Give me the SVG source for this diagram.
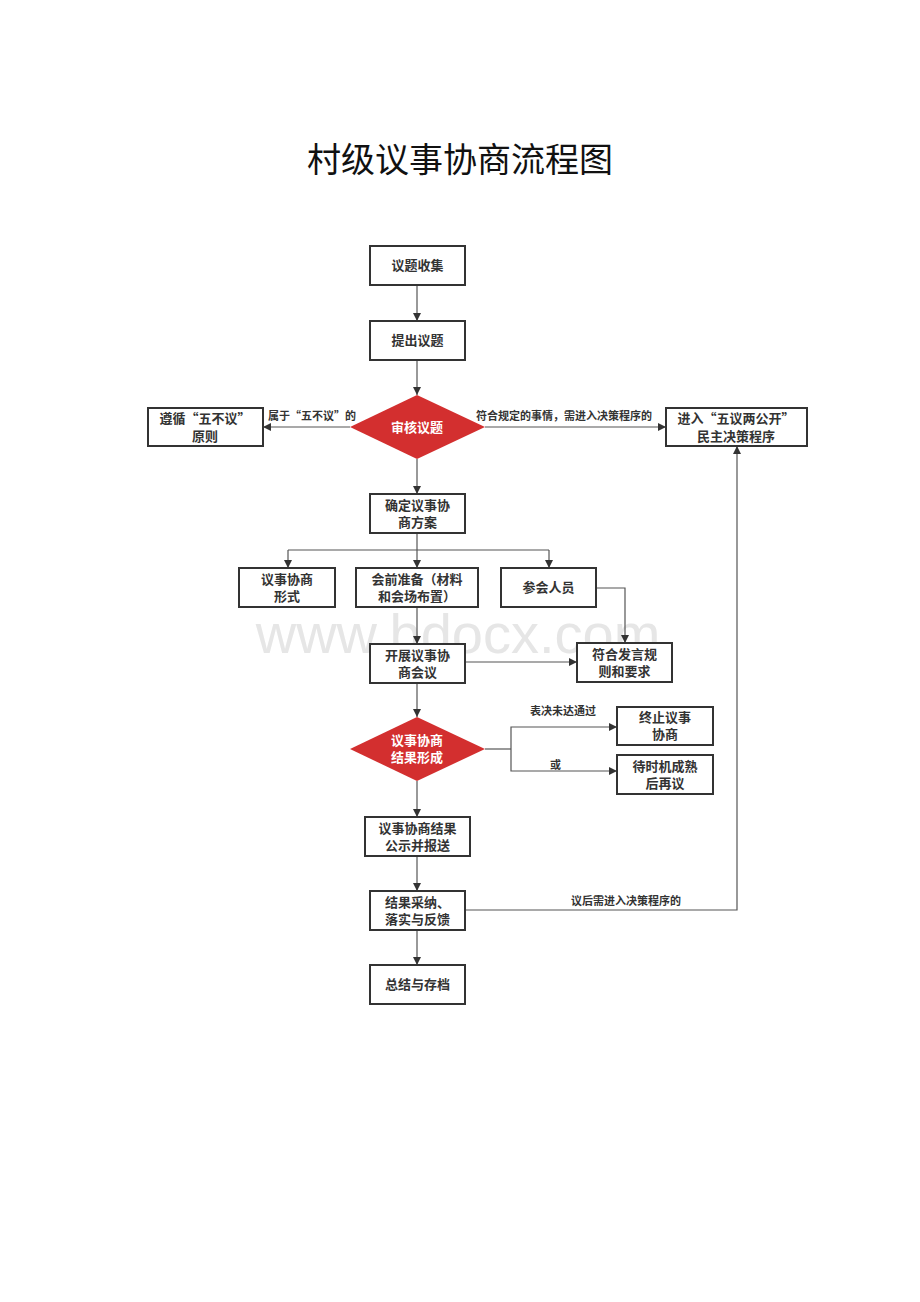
<svg xmlns="http://www.w3.org/2000/svg" width="920" height="1302" viewBox="0 0 920 1302">
<defs>
<marker id="ah" viewBox="0 0 10 10" refX="10" refY="5" markerWidth="8" markerHeight="8" markerUnits="userSpaceOnUse" orient="auto">
<path d="M0,0 L10,5 L0,10 z" fill="#333"/>
</marker>
<style>
.box{fill:#fff;stroke:#333;stroke-width:2}
.dia{fill:#d32f2f;stroke:none}
.t{font-family:"Noto Sans CJK SC","Noto Sans",sans-serif;font-size:13px;font-weight:bold;fill:#333;text-anchor:middle}
.tw{font-family:"Noto Sans CJK SC","Noto Sans",sans-serif;font-size:13px;font-weight:bold;fill:#fff;text-anchor:middle}
.lb{font-family:"Noto Sans CJK SC","Noto Sans",sans-serif;font-size:11px;font-weight:bold;fill:#333}
.c{fill:none;stroke:#555;stroke-width:1.2;marker-end:url(#ah)}
.cn{fill:none;stroke:#555;stroke-width:1.2}
</style>
</defs>
<rect width="920" height="1302" fill="#fff"/>
<text x="460" y="172" font-family="'Noto Sans CJK SC',sans-serif" font-size="34" fill="#111" text-anchor="middle">村级议事协商流程图</text>
<text x="458" y="653" font-family="'Liberation Sans',sans-serif" font-size="56" fill="#e6e6e6" text-anchor="middle">www.bdocx.com</text>

<g id="connectors">
<path class="c" d="M417,285 V321"/>
<path class="c" d="M417,360 V395"/>
<path class="c" d="M350,427 H263"/>
<path class="c" d="M485,427 H666"/>
<path class="c" d="M417,459 V494"/>
<path class="cn" d="M417,533 V550"/>
<path class="cn" d="M288,550 H549"/>
<path class="c" d="M288,550 V568"/>
<path class="c" d="M417,550 V568"/>
<path class="c" d="M549,550 V568"/>
<path class="c" d="M417,607 V644"/>
<path class="c" d="M596,588 H625 V643"/>
<path class="c" d="M465,662 H577"/>
<path class="c" d="M417,683 V717"/>
<path class="cn" d="M485,749 H511"/>
<path class="c" d="M511,749 V727 H617"/>
<path class="c" d="M511,749 V771 H617"/>
<path class="c" d="M417,781 V817"/>
<path class="c" d="M417,856 V891"/>
<path class="c" d="M465,910 H737 V446"/>
<path class="c" d="M417,930 V965"/>
<text class="lb" x="268" y="420">属于“五不议”的</text>
<text class="lb" x="476" y="420">符合规定的事情，需进入决策程序的</text>
<text class="lb" x="530" y="715">表决未达通过</text>
<text class="lb" x="550" y="769">或</text>
<text class="lb" x="571" y="905">议后需进入决策程序的</text>
</g>

<g id="n1"><rect class="box" x="370" y="246" width="95" height="39"/><text class="t" x="417.5" y="270">议题收集</text></g>
<g id="n2"><rect class="box" x="370" y="321" width="95" height="39"/><text class="t" x="417.5" y="345">提出议题</text></g>
<g id="n3"><path class="dia" d="M417,395 L485,427 L417,459 L350,427 z"/><text class="tw" x="417" y="432">审核议题</text></g>
<g id="n4"><rect class="box" x="148" y="408" width="115" height="38"/><text class="t" x="205" y="423">遵循“五不议”</text><text class="t" x="205" y="441">原则</text></g>
<g id="n5"><rect class="box" x="666" y="408" width="141" height="38"/><text class="t" x="736" y="423">进入“五议两公开”</text><text class="t" x="736" y="441">民主决策程序</text></g>
<g id="n6"><rect class="box" x="370" y="494" width="95" height="39"/><text class="t" x="417.5" y="510">确定议事协</text><text class="t" x="417.5" y="527">商方案</text></g>
<g id="n7"><rect class="box" x="239" y="568" width="96" height="39"/><text class="t" x="287" y="584">议事协商</text><text class="t" x="287" y="601">形式</text></g>
<g id="n8"><rect class="box" x="356" y="568" width="122" height="39"/><text class="t" x="417" y="584">会前准备（材料</text><text class="t" x="417" y="601">和会场布置）</text></g>
<g id="n9"><rect class="box" x="501" y="568" width="95" height="39"/><text class="t" x="548.5" y="592">参会人员</text></g>
<g id="n10"><rect class="box" x="370" y="644" width="95" height="39"/><text class="t" x="417.5" y="660">开展议事协</text><text class="t" x="417.5" y="677">商会议</text></g>
<g id="n11"><rect class="box" x="577" y="643" width="95" height="39"/><text class="t" x="624.5" y="659">符合发言规</text><text class="t" x="624.5" y="676">则和要求</text></g>
<g id="n12"><path class="dia" d="M417,717 L485,749 L417,781 L350,749 z"/><text class="tw" x="417" y="745">议事协商</text><text class="tw" x="417" y="762">结果形成</text></g>
<g id="n13"><rect class="box" x="617" y="707" width="96" height="38"/><text class="t" x="665" y="722">终止议事</text><text class="t" x="665" y="739">协商</text></g>
<g id="n14"><rect class="box" x="617" y="755" width="96" height="39"/><text class="t" x="665" y="771">待时机成熟</text><text class="t" x="665" y="788">后再议</text></g>
<g id="n15"><rect class="box" x="365" y="817" width="105" height="39"/><text class="t" x="417.5" y="833">议事协商结果</text><text class="t" x="417.5" y="850">公示并报送</text></g>
<g id="n16"><rect class="box" x="370" y="891" width="95" height="39"/><text class="t" x="417.5" y="907">结果采纳、</text><text class="t" x="417.5" y="924">落实与反馈</text></g>
<g id="n17"><rect class="box" x="370" y="965" width="95" height="39"/><text class="t" x="417.5" y="989">总结与存档</text></g>
</svg>
